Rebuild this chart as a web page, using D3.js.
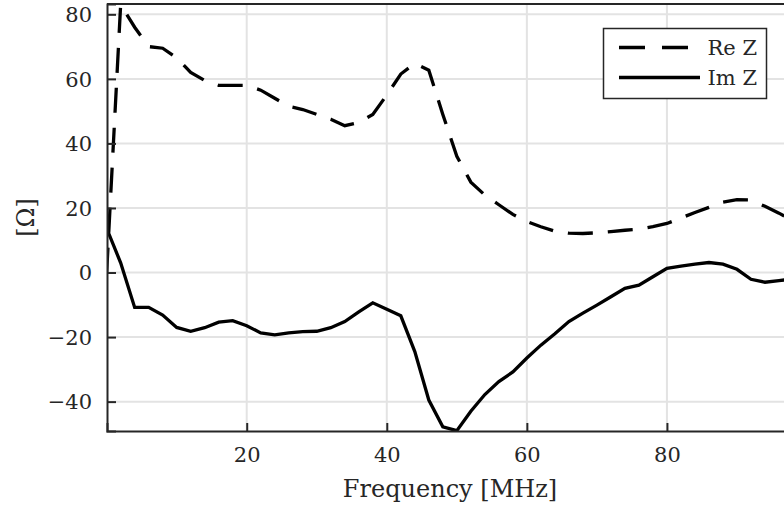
<!DOCTYPE html>
<html><head><meta charset="utf-8">
<script src="https://cdn.jsdelivr.net/npm/d3@7"></script>
<style>body{margin:0;background:#fff}svg{display:block}</style>
</head><body><svg id="c" width="784" height="509"></svg>
<script>
const freq = [0,2,4,6,8,10,12,14,16,18,20,22,24,26,28,30,32,34,36,38,40,42,44,46,48,50,52,54,56,58,60,62,64,66,68,70,72,74,76,78,80,82,84,86,88,90,92,94,96,98];
const reZ = [0,83,76,70,69.5,66.5,62,59.5,58,58,58,56.5,54,51.5,50.5,49,47.5,45.5,46.5,49,55,61.5,64.8,62.7,49,36,28,24,21,18,15.8,14.2,12.8,12.2,12.1,12.3,12.7,13.1,13.4,14.2,15.2,16.9,18.6,20.2,21.8,22.6,22.5,20.5,18.4,16];
const imZ = [13.7,3,-10.8,-10.8,-13.2,-17,-18.2,-17.1,-15.4,-14.9,-16.5,-18.7,-19.3,-18.7,-18.3,-18.2,-17.1,-15.2,-12.2,-9.4,-11.4,-13.4,-24.5,-39.5,-47.8,-49,-43,-37.8,-33.8,-30.8,-26.5,-22.5,-19,-15.2,-12.6,-10.1,-7.5,-4.9,-3.9,-1.3,1.3,2,2.6,3.1,2.6,1,-2.1,-3,-2.5,-2];
const xTicks = [20,40,60,80];
const yTicks = [-40,-20,0,20,40,60,80];
const seriesNames = ["Re Z","Im Z"];
const xLabel = "Frequency [MHz]";
const yLabel = "[\u03A9]";

const svg = d3.select("#c");
const L = 107, T = 4, R = 793, B = 431;
const x = d3.scaleLinear().domain([0.05, 98]).range([L, R]);
const y = d3.scaleLinear().domain([-49.1, 83.2]).range([B, T]);
const font = "DejaVu Serif";
const ink = "#262626";

svg.append("defs").append("clipPath").attr("id","clip")
  .append("rect").attr("x",L).attr("y",T).attr("width",R-L).attr("height",B-T);

// grid
const g = svg.append("g");
g.selectAll(".gx").data(xTicks).join("line")
  .attr("x1",d=>x(d)).attr("x2",d=>x(d)).attr("y1",T).attr("y2",B)
  .attr("stroke","#e3e3e3").attr("stroke-width",2);
g.selectAll(".gy").data(yTicks).join("line")
  .attr("y1",d=>y(d)).attr("y2",d=>y(d)).attr("x1",L).attr("x2",R)
  .attr("stroke","#e3e3e3").attr("stroke-width",2);

// lines
const data = freq.map((f,i)=>({f, re:reZ[i], im:imZ[i]}));
const lineRe = d3.line().x(d=>x(d.f)).y(d=>y(d.re));
const lineIm = d3.line().x(d=>x(d.f)).y(d=>y(d.im));
const plot = svg.append("g").attr("clip-path","url(#clip)");
plot.append("path").datum(data).attr("d",lineRe).attr("fill","none")
  .attr("stroke","#000").attr("stroke-width",3.3).attr("stroke-dasharray","25 15");
plot.append("path").datum(data).attr("d",lineIm).attr("fill","none")
  .attr("stroke","#000").attr("stroke-width",3.3);

// axes
const xAxis = d3.axisBottom(x).tickValues(xTicks).tickSize(-8).tickPadding(16)
  .tickFormat(d=>String(d));
const gx = svg.append("g").attr("transform",`translate(0,${B})`).call(xAxis);
const yAxis = d3.axisLeft(y).tickValues(yTicks).tickSize(-9).tickPadding(15)
  .tickFormat(d=> d<0 ? "\u2212"+Math.abs(d) : String(d));
const gy = svg.append("g").attr("transform",`translate(${L},0)`).call(yAxis);
gx.attr("font-family",font).attr("font-size",21);
gy.attr("font-family",font).attr("font-size",21);
[gx,gy].forEach(a=>{
  a.select(".domain").attr("stroke",ink).attr("stroke-width",2);
  a.selectAll(".tick line").attr("stroke",ink).attr("stroke-width",2);
  a.selectAll("text").attr("fill",ink);
});
gy.selectAll("text").attr("dy","0.35em");
// top border
svg.append("line").attr("x1",L).attr("x2",R).attr("y1",T).attr("y2",T)
  .attr("stroke",ink).attr("stroke-width",2);

// labels
svg.append("text").attr("x",450).attr("y",497).attr("text-anchor","middle")
  .attr("fill",ink).attr("font-family",font).attr("font-size",24).text(xLabel);
svg.append("text").attr("transform",`translate(34,${(T+B)/2}) rotate(-90)`)
  .attr("text-anchor","middle").attr("fill",ink)
  .attr("font-family",font).attr("font-size",24).text(yLabel);

// legend
const lg = svg.append("g");
lg.append("rect").attr("x",603.5).attr("y",28.5).attr("width",163).attr("height",70)
  .attr("fill","#fff").attr("stroke",ink).attr("stroke-width",1.5);
const rows = [{n:seriesNames[0],dash:"26 17",y:47.5},{n:seriesNames[1],dash:null,y:77.5}];
rows.forEach(r=>{
  lg.append("line").attr("x1",619).attr("x2",r.dash?688:700).attr("y1",r.y).attr("y2",r.y)
    .attr("stroke","#000").attr("stroke-width",3.3).attr("stroke-dasharray",r.dash);
  lg.append("text").attr("x",757).attr("y",r.y+7).attr("text-anchor","end")
    .attr("fill",ink).attr("font-family",font).attr("font-size",21).text(r.n);
});
</script></body></html>
